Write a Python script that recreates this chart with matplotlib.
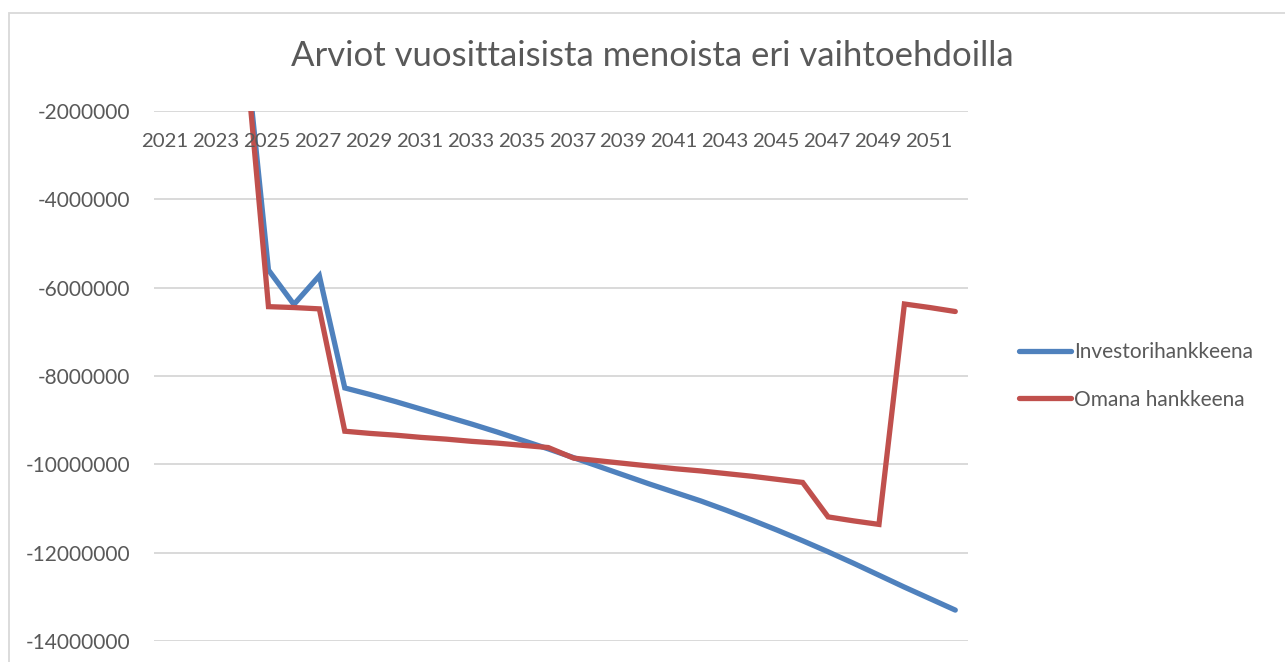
import matplotlib
matplotlib.use("Agg")
import matplotlib.pyplot as plt
from matplotlib.patches import Rectangle
from matplotlib.transforms import ScaledTranslation

# Annual expenditure estimates for two alternatives (EUR)
years = list(range(2021, 2053))
investor_project = [
    0, 0, 0, 0,
    -5600000, -6380000, -5730000, -8270000, -8420000, -8580000,
    -8750000, -8920000, -9090000, -9270000, -9460000, -9650000,
    -9850000, -10050000, -10250000, -10450000, -10640000, -10830000,
    -11040000, -11260000, -11490000, -11730000, -11980000, -12240000,
    -12510000, -12780000, -13040000, -13300000,
]
own_project = [
    0, 0, 0, 0,
    -6430000, -6450000, -6480000, -9250000, -9300000, -9340000,
    -9390000, -9430000, -9480000, -9520000, -9570000, -9620000,
    -9860000, -9920000, -9980000, -10040000, -10100000, -10150000,
    -10210000, -10270000, -10340000, -10410000, -11190000, -11280000,
    -11360000, -6370000, -6450000, -6540000,
]
series_names = ["Investorihankkeena", "Omana hankkeena"]
series_colors = ["#4F81BD", "#C0504D"]
y_ticks = [-2000000, -4000000, -6000000, -8000000, -10000000, -12000000, -14000000]
x_label_years = years[::2]
title = "Arviot vuosittaisista menoista eri vaihtoehdoilla"

TEXT = "#595959"
GRID = "#D9D9D9"
FONT = ["Lato", "DejaVu Sans"]
plt.rcParams["font.family"] = FONT

W, H = 1285, 662
fig = plt.figure(figsize=(W / 100, H / 100), dpi=100)
fig.patch.set_facecolor("white")

# chart border
fig.patches.append(Rectangle((9 / W, -0.5), 2.0, 0.5 + 1 - 13 / H,
                             transform=fig.transFigure, fill=False,
                             edgecolor=GRID, linewidth=1.3, clip_on=False))

left, right, top, bottom = 154, 968, 111, 641
ax = fig.add_axes([left / W, (H - bottom) / H, (right - left) / W, (bottom - top) / H])

idx = list(range(len(years)))
for vals, name, col in zip([investor_project, own_project], series_names, series_colors):
    ax.plot(idx, vals, color=col, linewidth=3.8, solid_capstyle="round",
            solid_joinstyle="miter", label=name, zorder=3)

ax.set_xlim(-0.5, len(years) - 0.5)
ax.set_ylim(min(y_ticks), max(y_ticks))
ax.set_yticks(y_ticks)
ax.set_yticklabels([str(v) for v in y_ticks])
ax.yaxis.grid(True, color=GRID, linewidth=1.4)
ax.set_axisbelow(True)
ax.tick_params(axis="y", length=0, pad=17, labelsize=15, labelcolor=TEXT)
ax.set_xticks([])
for s in ax.spines.values():
    s.set_visible(False)

# category labels sit just under the top of the value range
label_shift = ax.transData + ScaledTranslation(-1.5 / 100, -22 / 100, fig.dpi_scale_trans)
for y in x_label_years:
    ax.text(years.index(y), max(y_ticks), str(y), transform=label_shift,
            ha="center", va="top", fontsize=14.7, color=TEXT)

fig.text(652 / W, 1 - 56 / H, title, ha="center", va="center",
         fontsize=25, color=TEXT, fontweight="normal")

leg = ax.legend(loc="center left", bbox_to_anchor=(1019 / W, 1 - 376 / H),
                bbox_transform=fig.transFigure, frameon=False,
                fontsize=15, handlelength=2.5, handletextpad=0.15,
                labelspacing=1.3, borderaxespad=0, borderpad=0)
for t in leg.get_texts():
    t.set_color(TEXT)

fig.savefig("out.png", dpi=100, facecolor="white")
